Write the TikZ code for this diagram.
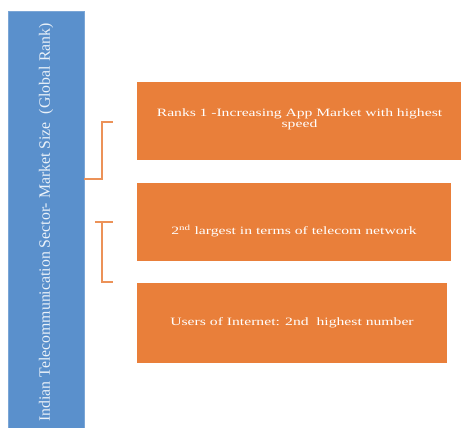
\documentclass[tikz,border=0pt]{standalone}
\usepackage{fontspec}
\setmainfont{Liberation Serif}
\newfontfamily\widefont[FakeStretch=1.4]{Liberation Serif}
\usepackage{tikz}

\definecolor{barblue}{HTML}{5A90CC}
\definecolor{boxorange}{HTML}{E97F3A}
\tikzset{
  sizebar/.style={fill=barblue,draw=barblue!80!white,text=white!88!barblue,rotate=90,
    minimum width=421pt,minimum height=76pt,inner sep=0pt,font=\fontsize{15.8}{18}\selectfont},
  fact/.style={fill=boxorange,text=white,align=center,inner sep=0pt,
    font=\widefont\fontsize{11.2}{11.5}\selectfont},
  brace/.style={draw=boxorange!85!white,line width=1.1pt}
}

\begin{document}
\begin{tikzpicture}[x=1pt,y=-1pt]
			\useasboundingbox(0,0)rectangle(461,428);
			\fill[barblue](8,11)rectangle(84,432);
			\node[sizebar](market)at(46,221.5){\hspace*{-2pt}Indian Telecommunication Sector- Market Size\ \ (Global Rank)};
			\node[fact,minimum width=325pt,minimum height=78pt,text width=320pt](rank)at(299.5,121)
				{\raisebox{-1pt}[0pt][0pt]{\parbox{320pt}{\centering Ranks 1 -Increasing App Market with highest\\speed}}};
			\node[fact,minimum width=314pt,minimum height=78pt](network)at(294,222)
				{\raisebox{-12pt}[0pt][0pt]{2\textsuperscript{nd} largest in terms of telecom network}};
			\node[fact,minimum width=310pt,minimum height=80pt](users)at(292,323)
				{Users of Internet: 2nd\ \ highest number};
			% brackets
			\coordinate(b1)at(113,122);
			\coordinate(b2a)at(95,222);
			\coordinate(b2b)at(113,282);
			\draw[brace](market.south|-0,179)-|(102,122)--(b1);
			\draw[brace](b2a)--(113,222);
			\draw[brace](102,222)|-(b2b);
		\end{tikzpicture}
\end{document}
